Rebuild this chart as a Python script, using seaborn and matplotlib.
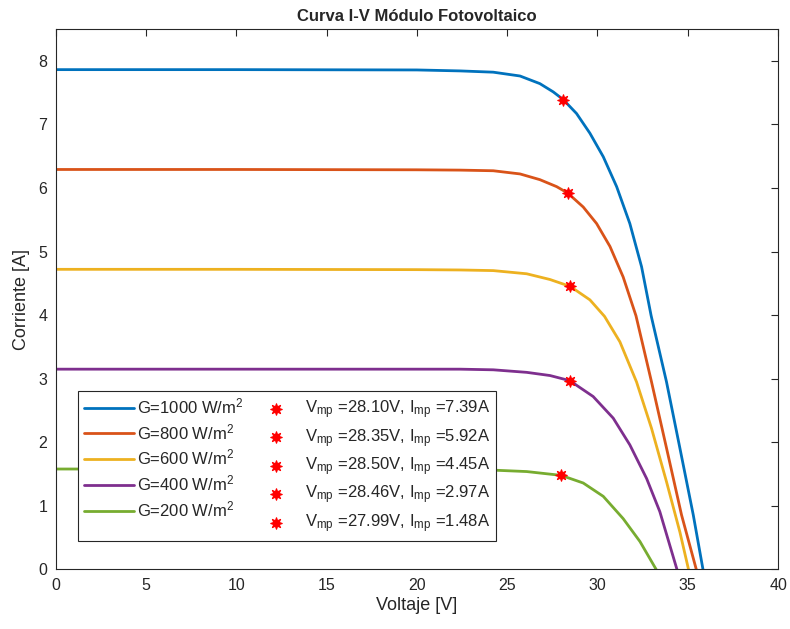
import pandas as pd
import seaborn as sns
import matplotlib.pyplot as plt

# Curvas I-V (voltaje [V], corriente [A])
irradiancias = [1000, 800, 600, 400, 200]

v_1000 = [0, 10, 20, 22.39, 24.23, 25.71, 26.81, 27.55, 28.10, 28.84, 29.58, 30.32, 31.06, 31.79,
          32.44, 32.97, 33.82, 34.56, 35.30, 35.84]
i_1000 = [7.86, 7.86, 7.855, 7.84, 7.82, 7.76, 7.64, 7.51, 7.39, 7.17, 6.86, 6.49, 6.02, 5.44,
          4.76, 3.99, 2.95, 1.91, 0.86, 0]

v_800 = [0, 10, 20, 22.39, 24.23, 25.71, 26.81, 27.74, 28.35, 29.21, 29.95, 30.69, 31.42, 32.13,
         32.99, 33.82, 34.65, 35.47]
i_800 = [6.29, 6.29, 6.285, 6.28, 6.27, 6.22, 6.13, 6.02, 5.92, 5.70, 5.44, 5.08, 4.60, 3.99,
         2.95, 1.91, 0.86, 0]

v_600 = [0, 10, 20, 22.39, 24.23, 26.08, 27.37, 28.50, 29.58, 30.39, 31.24, 32.16, 32.99, 33.82,
         34.56, 35.04]
i_600 = [4.72, 4.72, 4.715, 4.71, 4.70, 4.65, 4.56, 4.45, 4.24, 3.98, 3.58, 2.95, 2.22, 1.38,
         0.59, 0]

v_400 = [0, 10, 20, 22.39, 24.23, 26.08, 27.37, 28.46, 29.76, 30.87, 31.79, 32.72, 33.45, 34.40]
i_400 = [3.15, 3.15, 3.15, 3.15, 3.14, 3.10, 3.05, 2.97, 2.72, 2.38, 1.96, 1.43, 0.91, 0]

v_200 = [0, 10, 20, 24.42, 26.08, 27.99, 29.21, 30.32, 31.42, 32.35, 33.25]
i_200 = [1.58, 1.58, 1.575, 1.56, 1.54, 1.48, 1.36, 1.15, 0.80, 0.44, 0]

# Puntos de máxima potencia
v_mp = [28.10, 28.35, 28.50, 28.46, 27.99]
i_mp = [7.39, 5.92, 4.45, 2.97, 1.48]

colores = ["#0072BD", "#D95319", "#EDB120", "#7E2F8E", "#77AC30"]

curvas = [(v_1000, i_1000), (v_800, i_800), (v_600, i_600), (v_400, i_400), (v_200, i_200)]
tablas = []
for g, (v, i) in zip(irradiancias, curvas):
    tablas.append(pd.DataFrame({"V": v, "I": i, "G": g}))
datos = pd.concat(tablas, ignore_index=True)

sns.set_style("white")
plt.rcParams["font.family"] = ["Liberation Sans", "DejaVu Sans"]
plt.rcParams["mathtext.fontset"] = "custom"
plt.rcParams["mathtext.rm"] = "Liberation Sans"
plt.rcParams["mathtext.it"] = "Liberation Sans"
plt.rcParams["lines.solid_joinstyle"] = "round"

fig = plt.figure(figsize=(7.9, 6.29), dpi=100)
ax = fig.add_axes([0.0703, 0.0946, 0.9147, 0.8594])

for g, c in zip(irradiancias, colores):
    sub = datos[datos["G"] == g]
    sns.lineplot(data=sub, x="V", y="I", color=c, linewidth=2, sort=False,
                 estimator=None, label=f"G={g} W/m$^2$", ax=ax)

for vm, im in zip(v_mp, i_mp):
    sns.scatterplot(x=[vm], y=[im], marker=(8, 1, 0), color="red", s=70,
                    edgecolor="red", linewidth=0.8, zorder=5,
                    label=f"V$_{{mp}}$ =${vm:.2f}$V, I$_{{mp}}$ =${im:.2f}$A", ax=ax)

ax.set_xlim(0, 40)
ax.set_ylim(0, 8.5)
ax.set_xticks(range(0, 41, 5))
ax.set_yticks(range(0, 9))
ax.tick_params(direction="in", length=5, width=0.8, top=True, right=True,
               labelsize=11.5, colors="#262626", pad=6)
for s in ax.spines.values():
    s.set_color("#262626")
    s.set_linewidth(0.8)

ax.set_xlabel("Voltaje [V]", fontsize=13, color="#262626", labelpad=3)
ax.set_ylabel("Corriente [A]", fontsize=13, color="#262626", labelpad=6)
ax.set_title("Curva I-V Módulo Fotovoltaico", fontsize=12, fontweight="bold", pad=6)

leg = ax.legend(ncol=2, loc="lower left", bbox_to_anchor=(0.031, 0.053),
                borderaxespad=0, fontsize=12, handlelength=3.0, handletextpad=0.2,
                columnspacing=0.45, labelspacing=0.35, borderpad=0.36,
                fancybox=False, framealpha=1, edgecolor="#262626")
leg.get_frame().set_linewidth(0.8)

plt.savefig("out.png", dpi=100)
plt.close()
